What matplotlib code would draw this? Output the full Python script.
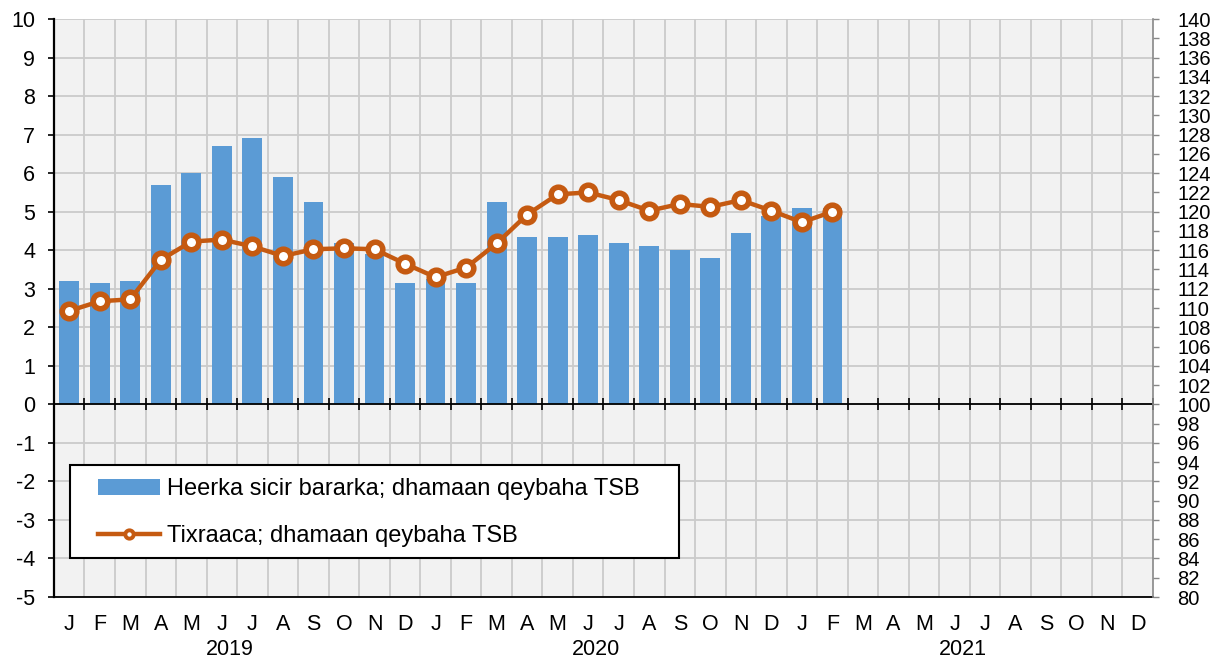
import matplotlib.pyplot as plt
import matplotlib.patches as mpatches
import numpy as np

plt.rcParams['font.family'] = ['Liberation Sans', 'DejaVu Sans']
plt.rcParams['axes.unicode_minus'] = False

BAR_COLOUR = '#5b9bd5'
LINE_COLOUR = '#c55a11'
GRID_COLOUR = '#cbcbcb'

MONTHS = ['J', 'F', 'M', 'A', 'M', 'J', 'J', 'A', 'S', 'O', 'N', 'D'] * 3
YEARS = ['2019', '2020', '2021']

# Heerka sicir bararka (left axis, %)
PRICE_GROWTH = [3.2, 3.15, 3.2, 5.7, 6.0, 6.7, 6.9, 5.9, 5.25, 4.2, 3.9, 3.15,
                3.25, 3.15, 5.25, 4.35, 4.35, 4.4, 4.2, 4.1, 4.0, 3.8, 4.45,
                4.9, 5.1, 5.1]
# Tixraaca (right axis, index)
TREND = [109.7, 110.7, 110.9, 115.0, 116.9, 117.1, 116.4, 115.4, 116.1,
         116.2, 116.1, 114.6, 113.2, 114.2, 116.7, 119.7, 121.8, 122.0,
         121.2, 120.1, 120.8, 120.5, 121.2, 120.1, 118.9, 120.0]

LABEL_BARS = 'Heerka sicir bararka; dhamaan qeybaha TSB'
LABEL_LINE = 'Tixraaca; dhamaan qeybaha TSB'

fig = plt.figure(figsize=(12.21, 6.58), dpi=100)
ax = fig.add_axes([0.0442, 0.0927, 0.9001, 0.8784])
ax.set_facecolor('#f2f2f2')
ax2 = ax.twinx()

n = len(MONTHS)
x = np.arange(n)

ax.set_axisbelow(True)
bars = ax.bar(x[:len(PRICE_GROWTH)], PRICE_GROWTH, width=0.65,
              color=BAR_COLOUR, zorder=2, label=LABEL_BARS)
ax.axhline(0, color='black', lw=1.3, zorder=3)
# small tick marks crossing the zero line at month boundaries
ax.plot(np.arange(-0.5, n, 1.0), np.zeros(n + 1), ls='none', marker='|',
        ms=8, mew=1.2, color='black', zorder=3, clip_on=False)

ax.set_xlim(-0.5, n - 0.5)
ax.set_ylim(-5, 10)
ax.set_yticks(range(-5, 11))
ax.set_xticks(x)
ax.set_xticklabels(MONTHS)
ax.set_xticks(np.arange(0.5, n - 1, 1.0), minor=True)
ax.grid(True, which='minor', axis='x', color=GRID_COLOUR, lw=1.3)
ax.grid(True, which='major', axis='y', color=GRID_COLOUR, lw=1.3)
ax.tick_params(axis='x', which='both', length=0, pad=12, labelsize=15.5)
ax.tick_params(axis='y', length=4.5, width=1.2, pad=9, labelsize=15.5,
               direction='out')

for k, yr in enumerate(YEARS):
    ax.text(12 * k + 5.27, -0.09, yr, transform=ax.get_xaxis_transform(),
            ha='center', va='center', fontsize=15.5)

ax.spines['top'].set_visible(False)
ax.spines['right'].set_visible(False)
ax.spines['left'].set_linewidth(1.6)
ax.spines['bottom'].set_linewidth(1.3)

line, = ax2.plot(x[:len(TREND)], TREND, color=LINE_COLOUR, lw=3.2,
                 marker='o', ms=10.5, mew=4, mfc='white', mec=LINE_COLOUR,
                 zorder=4, label=LABEL_LINE)
ax2.set_ylim(80, 140)
ax2.set_yticks(range(80, 141, 2))
ax2.tick_params(axis='y', length=4.5, width=1.0, color='#888888', pad=13,
                labelsize=14.5)
ax2.spines['right'].set_color('#888888')
ax2.spines['right'].set_linewidth(1.2)
ax2.spines['top'].set_visible(False)
ax2.spines['left'].set_visible(False)
ax2.spines['bottom'].set_visible(False)

# legend box drawn separately so the inner padding can differ per side
box = mpatches.Rectangle((0.0146, 0.0675), 0.554, 0.161,
                         transform=ax2.transAxes, facecolor='white',
                         edgecolor='black', lw=1.5, zorder=4.5)
ax2.add_patch(box)
leg = ax2.legend([bars, line], [LABEL_BARS, LABEL_LINE], loc='center left',
                 bbox_to_anchor=(0.040, 0.146), frameon=False,
                 fontsize=17, handlelength=2.63, handleheight=0.7,
                 handletextpad=0.3, labelspacing=1.05, borderpad=0,
                 borderaxespad=0)
leg_line = leg.legend_handles[1]
leg_line.set_markersize(6)
leg_line.set_markeredgewidth(2.8)

plt.savefig('out.png', dpi=100)
